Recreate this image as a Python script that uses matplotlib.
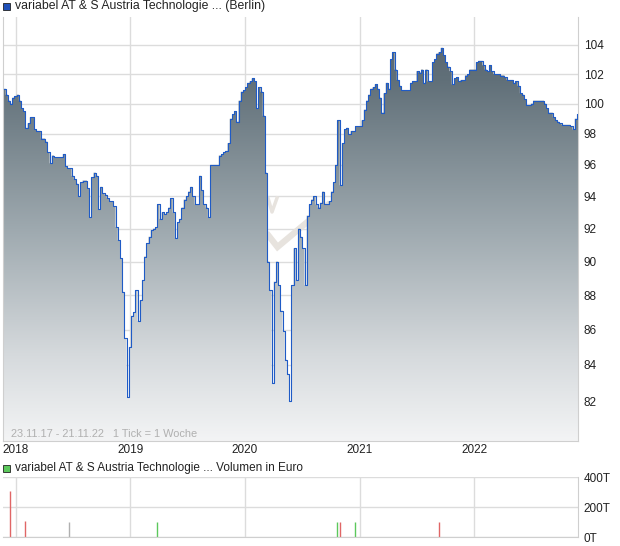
import matplotlib
matplotlib.use("Agg")
import matplotlib.pyplot as plt
import matplotlib.dates as mdates
from matplotlib.colors import LinearSegmentedColormap
from matplotlib.patches import Rectangle
import numpy as np
import pandas as pd

plt.rcParams['font.family'] = ['Liberation Sans', 'DejaVu Sans']

# weekly closing prices, 23.11.17 - 21.11.22 (1 tick = 1 week)
start = "2017-11-23"
price = [
    101.0, 100.6, 100.2, 100.0, 100.4, 100.5, 100.6, 100.2, 99.7, 99.5,
    98.4, 98.7, 99.1, 99.1, 98.3, 98.2, 98.2, 97.7, 97.7, 97.5,
    96.8, 96.1, 96.6, 96.5, 96.5, 96.5, 96.5, 96.7, 95.9, 95.8,
    95.8, 95.3, 95.1, 94.8, 94.0, 94.9, 95.0, 95.0, 94.5, 92.7,
    95.2, 95.5, 95.3, 93.2, 94.6, 94.2, 94.1, 93.9, 93.7, 93.7,
    93.4, 92.1, 91.3, 90.2, 88.2, 85.5, 82.2, 85.0, 86.8, 87.0,
    88.3, 86.5, 87.7, 88.9, 90.3, 91.1, 91.5, 91.9, 92.0, 92.1,
    93.5, 92.6, 93.0, 92.9, 93.0, 93.3, 93.9, 93.0, 91.4, 92.4,
    92.6, 93.3, 93.8, 94.0, 94.3, 94.6, 94.0, 93.5, 93.5, 95.3,
    94.4, 93.5, 93.3, 92.7, 96.0, 96.0, 96.0, 96.0, 96.6, 96.7,
    96.8, 96.9, 97.4, 99.0, 99.3, 99.5, 98.8, 100.2, 100.8, 100.9,
    101.1, 101.4, 101.5, 101.7, 101.5, 99.7, 101.1, 100.8, 99.2, 95.5,
    90.0, 88.3, 83.0, 88.8, 90.0, 88.6, 87.1, 85.9, 84.3, 83.5,
    82.0, 88.6, 90.8, 88.9, 92.0, 91.5, 90.8, 88.6, 92.8, 93.5,
    93.8, 94.0, 93.5, 93.3, 93.6, 94.3, 93.5, 93.5, 93.7, 94.3,
    94.9, 96.0, 98.9, 94.7, 97.4, 98.3, 98.4, 98.0, 98.2, 98.2,
    98.5, 98.5, 98.5, 98.9, 99.6, 100.2, 100.6, 101.0, 101.1, 101.3,
    101.0, 100.4, 99.4, 100.7, 101.4, 101.0, 103.0, 103.5, 102.3, 101.6,
    101.2, 100.9, 100.9, 100.9, 100.9, 101.4, 101.5, 101.5, 102.2, 102.1,
    102.3, 101.4, 102.3, 101.5, 101.5, 102.8, 103.0, 103.4, 103.5, 103.8,
    103.3, 102.8, 102.5, 102.2, 101.3, 101.7, 101.8, 101.5, 101.6, 101.6,
    101.9, 102.0, 102.3, 102.3, 102.3, 102.8, 102.9, 102.9, 102.6, 102.3,
    102.2, 102.6, 102.2, 102.0, 102.0, 102.0, 101.9, 101.9, 101.8, 101.6,
    101.6, 101.6, 101.4, 101.5, 101.2, 100.7, 100.6, 100.3, 99.9, 99.9,
    100.0, 100.2, 100.2, 100.2, 100.2, 100.2, 100.0, 99.7, 99.4, 99.4,
    99.1, 98.9, 98.8, 98.7, 98.6, 98.6, 98.6, 98.6, 98.5, 98.3,
    99.0, 99.3,
]

# weekly turnover (thousand euro)
vol_dates = ["2017-12-14", "2018-02-01", "2018-06-21", "2019-03-28",
             "2020-10-22", "2020-10-29", "2020-12-17", "2021-09-09"]
vol_values = [308, 105, 100, 100, 100, 100, 100, 100]
vol_colors = ["#e06666", "#e06666", "#b0b0b0", "#5cc85c",
              "#5cc85c", "#e06666", "#5cc85c", "#e06666"]

price_ticks = [82, 84, 86, 88, 90, 92, 94, 96, 98, 100, 102, 104]
vol_ticks = [0, 200, 400]
vol_labels = ["0T", "200T", "400T"]
years = ["2018", "2019", "2020", "2021", "2022"]

dates = pd.date_range(start, periods=len(price), freq="7D")
x = mdates.date2num(dates)

W, H = 620, 546
fig = plt.figure(figsize=(W / 100, H / 100), dpi=100)

def box(l, t, r, b):
    return [l / W, 1 - b / H, (r - l) / W, (b - t) / H]

ax = fig.add_axes(box(3, 17, 578, 441))
ax.set_yscale("log")
ymin, ymax = 79.84, 105.96
ax.set_ylim(ymin, ymax)
x0 = x[0] - 0.5 * 7 / 2.195
x1 = x[-1] + 1.0 * 7 / 2.195
ax.set_xlim(x0, x1)

grid_c = "#dcdcdc"
year_x = mdates.date2num(pd.to_datetime([y + "-01-01" for y in years]))
for yx in year_x:
    ax.axvline(yx, color=grid_c, lw=1, zorder=0)
for t in price_ticks:
    ax.axhline(t, color=grid_c, lw=1, zorder=0)

# faint logo behind the chart
logo_c = "#e7e3de"
ax.plot([266.5 / W, 277.5 / W, 330 / W], [1 - 233 / H, 1 - 247 / H, 1 - 203 / H],
        transform=fig.transFigure, color=logo_c, lw=4.5, zorder=1,
        solid_capstyle="butt", solid_joinstyle="miter")
ax.plot([268 / W, 272 / W, 277 / W], [1 - 198 / H, 1 - 212 / H, 1 - 198 / H],
        transform=fig.transFigure, color=logo_c, lw=2.5, zorder=1)

# gradient area
xs = np.append(x, x1)
ps = np.append(price, price[-1])
poly = ax.fill_between(xs, ps, ymin * 0.9, step="post", facecolor="none",
                       edgecolor="none", zorder=2)
cmap = LinearSegmentedColormap.from_list("g", [
    (0.0, "#f3f4f5"), (0.2, "#d6dadd"), (0.5, "#9ea9af"),
    (0.85, "#617079"), (1.0, "#55636d")])
grad = np.linspace(0, 1, 256).reshape(-1, 1)
im = ax.imshow(grad, cmap=cmap, aspect="auto", extent=[0, 1, 0, 1],
               origin="lower", transform=ax.transAxes, zorder=2)
im.set_clip_path(poly.get_paths()[0], transform=ax.transData)
ax.step(xs, ps, where="post", color="#1f5bc6", lw=0.8, zorder=3)

ax.yaxis.tick_right()
ax.set_yticks(price_ticks)
ax.set_yticklabels([str(t) for t in price_ticks])
ax.yaxis.set_minor_locator(matplotlib.ticker.NullLocator())
ax.yaxis.set_minor_formatter(matplotlib.ticker.NullFormatter())
ax.set_xticks(year_x)
ax.set_xticklabels(years)
ax.tick_params(axis="both", length=0, labelsize=8.5, colors="#222222")
ax.tick_params(axis="y", pad=4)
ax.tick_params(axis="x", pad=2)
for s in ["left", "right", "bottom"]:
    ax.spines[s].set_color("#cfcfcf")
ax.spines["top"].set_visible(False)

ax.text(8 / 575, 7 / 424, "23.11.17 - 21.11.22   1 Tick = 1 Woche",
        transform=ax.transAxes, fontsize=7.9, color="#b0b0b0", va="center")

# volume panel
av = fig.add_axes(box(3, 477, 578, 537))
av.set_xlim(x0, x1)
av.set_ylim(0, 400)
for yx in year_x:
    av.axvline(yx, color=grid_c, lw=1, zorder=0)
for t in vol_ticks:
    av.axhline(t, color=grid_c, lw=1, zorder=0)
vx = mdates.date2num(pd.to_datetime(vol_dates))
av.vlines(vx, 0, vol_values, colors=vol_colors, lw=1.0, zorder=2)
av.yaxis.tick_right()
av.set_yticks(vol_ticks)
av.set_yticklabels(vol_labels)
av.set_xticks([])
av.tick_params(axis="both", length=0, labelsize=8.5, colors="#222222")
av.tick_params(axis="y", pad=4)
for s in ["top", "left"]:
    av.spines[s].set_visible(False)
for s in ["right", "bottom"]:
    av.spines[s].set_color("#cfcfcf")

# legends
fig.patches.append(Rectangle((3 / W, 1 - 10 / H), 7 / W, 7 / H, transform=fig.transFigure,
                             facecolor="#1f50b8", edgecolor="#222222", lw=0.6))
fig.text(15 / W, 1 - 6.5 / H, "variabel AT & S Austria Technologie ... (Berlin)",
         fontsize=8.8, color="#222222", va="center")
fig.patches.append(Rectangle((3 / W, 1 - 472 / H), 7 / W, 7 / H, transform=fig.transFigure,
                             facecolor="#5cc85c", edgecolor="#222222", lw=0.6))
fig.text(15 / W, 1 - 468.5 / H, "variabel AT & S Austria Technologie ... Volumen in Euro",
         fontsize=8.5, color="#222222", va="center")

fig.savefig("out.png", dpi=100)
